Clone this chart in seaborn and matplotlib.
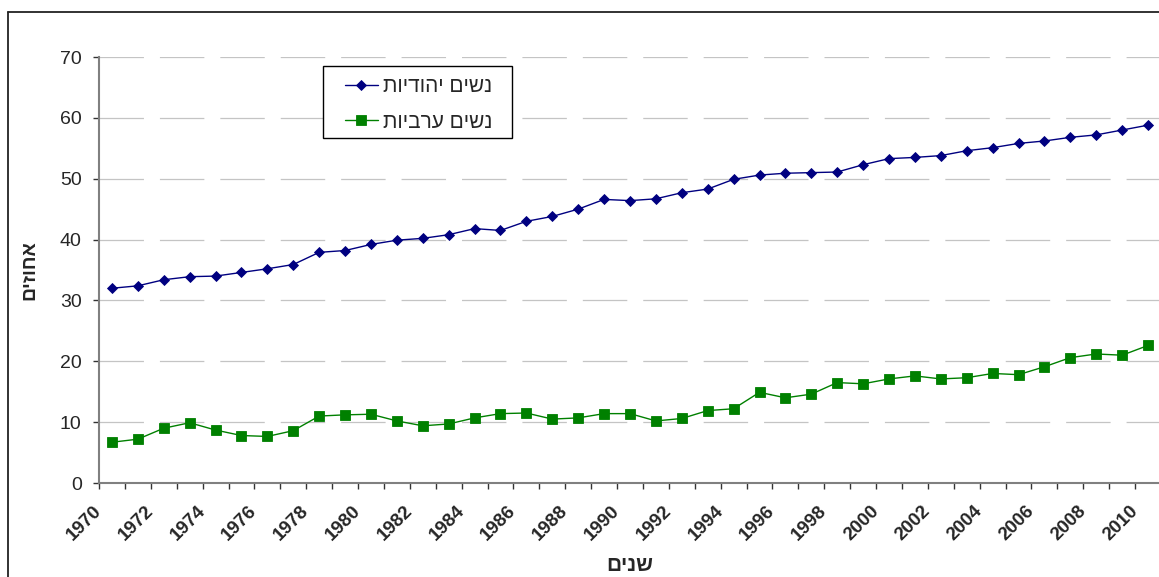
import pandas as pd
import matplotlib
matplotlib.use('Agg')
import matplotlib.pyplot as plt
import seaborn as sns
from matplotlib.lines import Line2D
from matplotlib.patches import Rectangle

'''
    DATA
'''
years = list(range(1970, 2011))

jewish = [32.0, 32.4, 33.4, 33.9, 34.0, 34.6, 35.2, 35.9, 37.9, 38.2,
          39.2, 39.9, 40.2, 40.8, 41.8, 41.5, 43.0, 43.8, 45.0, 46.6,
          46.4, 46.7, 47.7, 48.3, 49.9, 50.6, 50.9, 51.0, 51.1, 52.3,
          53.3, 53.5, 53.8, 54.6, 55.1, 55.8, 56.2, 56.8, 57.2, 58.0, 58.8]

arab = [6.7, 7.2, 9.0, 9.9, 8.7, 7.8, 7.65, 8.6, 11.0, 11.2,
        11.3, 10.2, 9.4, 9.7, 10.7, 11.4, 11.5, 10.5, 10.7, 11.4,
        11.4, 10.2, 10.6, 11.9, 12.2, 14.9, 14.0, 14.6, 16.5, 16.3,
        17.1, 17.6, 17.1, 17.3, 18.0, 17.8, 19.1, 20.6, 21.2, 21.0, 22.6]

name_jewish = 'נשים יהודיות'
name_arab = 'נשים ערביות'
x_title = 'שנים'
y_title = 'אחוזים'

year_labels = years[::2]
y_ticks = list(range(0, 80, 10))


def rtl(s):
    # matplotlib has no bidi support -> reverse hebrew for display
    return s[::-1]


df = pd.DataFrame({
    'year': years * 2,
    'pct': jewish + arab,
    'group': [name_jewish] * len(years) + [name_arab] * len(years),
})

'''
    PLOT
'''
sns.set_style('white')
plt.rcParams['font.family'] = ['Liberation Sans', 'DejaVu Sans']
plt.rcParams['lines.scale_dashes'] = False

W, H = 1159, 577
fig = plt.figure(figsize=(W / 100, H / 100), dpi=100)
ax = fig.add_axes([99 / W, 94 / H, 1062 / W, 426 / H])

colors = {name_jewish: '#000080', name_arab: '#008000'}
sns.lineplot(
    data=df, x='year', y='pct',
    hue='group', style='group',
    palette=colors,
    markers={name_jewish: 'D', name_arab: 's'},
    dashes=False,
    linewidth=1.0,
    legend=False,
    ax=ax,
)
sizes = [5.2, 6.6]
for ln, ms in zip(ax.lines, sizes):
    ln.set_markersize(ms)
    ln.set_markeredgecolor(ln.get_color())
    ln.set_markeredgewidth(0.6)

ax.set_xlim(years[0] - 0.5, years[-1] + 0.5)
ax.set_ylim(0, 70)
ax.set_yticks(y_ticks)
ax.set_yticklabels([str(v) for v in y_ticks], fontsize=14)

ax.set_xticks([y - 0.5 for y in year_labels])
ax.set_xticks([y - 0.5 for y in years] + [years[-1] + 0.5], minor=True)
ax.set_xticklabels([str(y) for y in year_labels], fontsize=13.5,
                   fontweight='heavy', rotation=45, ha='right', va='center',
                   rotation_mode='anchor')

ax.tick_params(axis='y', which='major', direction='out', length=4.5,
               width=1, color='#333333', pad=8, left=True)
ax.tick_params(axis='x', which='both', direction='out', length=4.5,
               width=1, color='#333333', pad=14, bottom=True)

ax.grid(False)
ax.grid(True, axis='y', color='#c4c4c4', linewidth=0.9,
        linestyle=(0, (32, 11.5)))

for s in ['top', 'right']:
    ax.spines[s].set_visible(False)
for s in ['left', 'bottom']:
    ax.spines[s].set_color('#808080')
    ax.spines[s].set_linewidth(1.5)

ax.set_xlabel(rtl(x_title), fontsize=15, fontweight='bold')
ax.xaxis.set_label_coords(0.5, -0.193)
ax.xaxis.label.set_va('center')
ax.set_ylabel(rtl(y_title), fontsize=14, fontweight='bold')
ax.yaxis.set_label_coords(-0.065, 0.5)
ax.yaxis.label.set_va('center')

# legend box drawn by hand so the padding matches the excel one
box = Rectangle((323 / W, 1 - 138 / H), 189 / W, 72 / H,
                transform=fig.transFigure, facecolor='white',
                edgecolor='black', linewidth=1.0, zorder=4, clip_on=False)
ax.add_patch(box)
leg = ax.legend(
    handles=ax.lines[:2],
    labels=[rtl(name_jewish), rtl(name_arab)],
    loc='upper left',
    bbox_to_anchor=(345 / W, 1 - 77.5 / H),
    bbox_transform=fig.transFigure,
    borderaxespad=0,
    borderpad=0,
    fontsize=15,
    frameon=False,
    handlelength=1.58,
    handletextpad=0.25,
    labelspacing=0.78,
)
leg.set_zorder(6)

# outer chart border (cut off at the right/bottom like the original)
x0 = 8 / W
y0 = 1 - 12 / H
fig.add_artist(Line2D([x0, x0], [0, y0], transform=fig.transFigure,
                      color='#222222', linewidth=1.3))
fig.add_artist(Line2D([x0, 1], [y0, y0], transform=fig.transFigure,
                      color='#222222', linewidth=1.3))

fig.savefig('out.png', dpi=100)
